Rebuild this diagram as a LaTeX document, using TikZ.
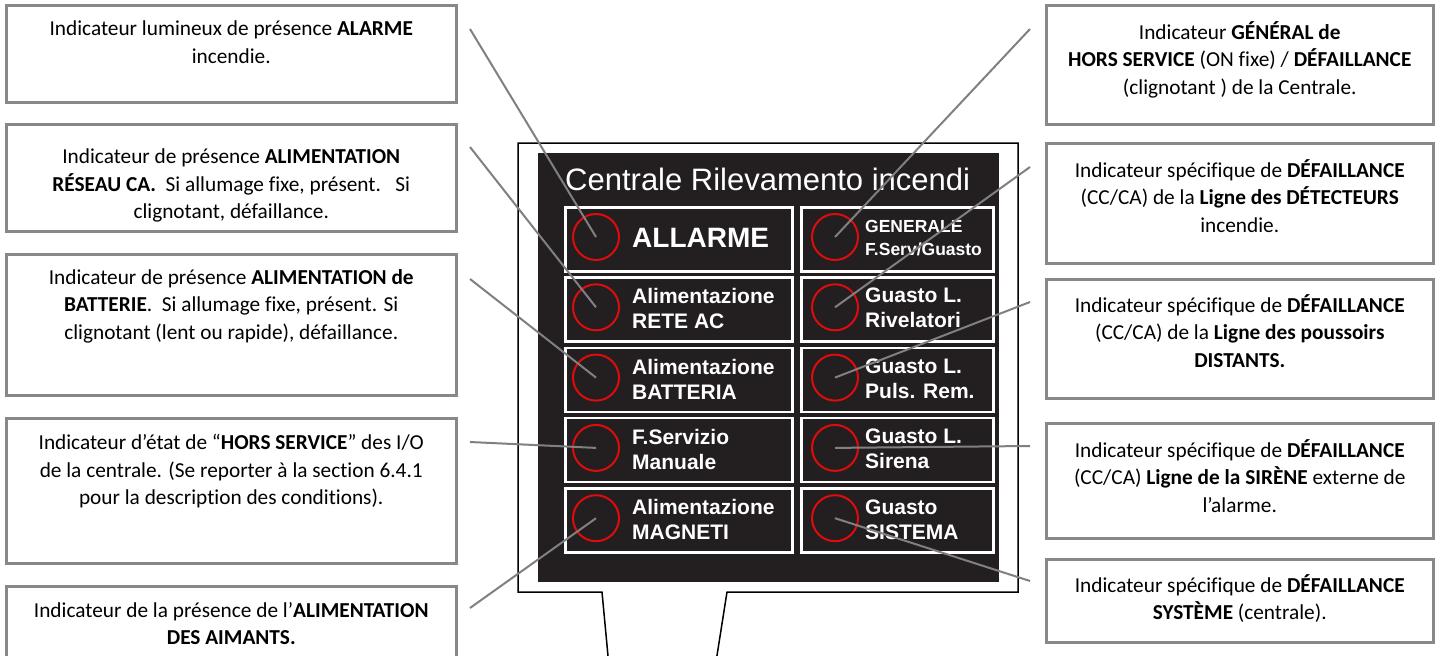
\documentclass[tikz,border=0pt]{standalone}
\usepackage{fontspec}
\setmainfont{Carlito}[Ligatures=NoCommon]
\newfontfamily\panelfont{Liberation Sans}
\usepackage{tikz}
\usetikzlibrary{positioning}
\definecolor{boxgray}{RGB}{136, 136, 136}
\definecolor{leadgray}{RGB}{128, 128, 128}
\definecolor{panelblack}{RGB}{35, 31, 32}
\definecolor{ledred}{RGB}{222, 12, 12}

\tikzset{
  descbox/.style={draw=boxgray, line width=2.5pt, anchor=north west, inner sep=0pt},
  desctext/.style={align=center, inner sep=0pt, font=\fontsize{21.3}{27.5}\selectfont},
  cellbox/.style={draw=white, line width=2.5pt, minimum height=64pt, anchor=north west, inner sep=0pt},
  led/.style={circle, draw=ledred, line width=2pt, minimum size=46pt, inner sep=0pt},
  celltxt/.style={text=white, align=left, inner sep=0pt, anchor=west, font=\panelfont\bfseries\fontsize{21}{25}\selectfont},
  lead/.style={draw=leadgray, line width=2pt}
}

\begin{document}
\begin{tikzpicture}[x=1pt, y=-1pt]
  \useasboundingbox (0,0) rectangle (1438,656);

  % left descriptions
  \node[descbox, minimum width=450pt, minimum height=97pt]  (alarmbox)   at (5,4)   {};
  \node[descbox, minimum width=450pt, minimum height=107pt] (mainsbox)   at (5,123) {};
  \node[descbox, minimum width=450pt, minimum height=141pt] (batterybox) at (5,253) {};
  \node[descbox, minimum width=450pt, minimum height=145pt] (servicebox) at (5,417) {};
  \node[descbox, minimum width=450pt, minimum height=100pt] (magnetbox)  at (5,585) {};
  \node[desctext, below=17pt of alarmbox.north] (alarmtxt)
       {Indicateur lumineux de présence \textbf{ALARME}\\ incendie.};
  \node[desctext, below=26pt of mainsbox.north] (mainstxt)
       {Indicateur de présence \textbf{ALIMENTATION}\\ \textbf{RÉSEAU CA.}\ \ Si allumage fixe, présent.\ \ \ Si\\ clignotant, défaillance.};
  \node[desctext, below=16pt of batterybox.north] (batterytxt)
       {Indicateur de présence \textbf{ALIMENTATION de}\\ \textbf{BATTERIE}.\ \ Si allumage fixe, présent. Si\\ clignotant (lent ou rapide), défaillance.};
  \node[desctext, below=17pt of servicebox.north] (servicetxt)
       {Indicateur d’état de “\textbf{HORS SERVICE}” des I/O\\ de la centrale. (Se reporter à la section 6.4.1\\ pour la description des conditions).};
  \node[desctext, below=17pt of magnetbox.north] (magnettxt)
       {Indicateur de la présence de l’\textbf{ALIMENTATION}\\ \textbf{DES AIMANTS.}};

  % right descriptions
  \node[descbox, minimum width=387pt, minimum height=119pt] (generalbox)  at (1045,4)   {};
  \node[descbox, minimum width=387pt, minimum height=120pt] (detectorbox) at (1045,142) {};
  \node[descbox, minimum width=387pt, minimum height=119pt] (pushbox)     at (1045,278) {};
  \node[descbox, minimum width=387pt, minimum height=115pt] (sirenbox)    at (1045,422) {};
  \node[descbox, minimum width=387pt, minimum height=83pt]  (systembox)   at (1045,558) {};
  \node[desctext, below=17pt of generalbox.north] (generaltxt)
       {Indicateur \textbf{GÉNÉRAL de}\\ \textbf{HORS SERVICE} (ON fixe) / \textbf{DÉFAILLANCE}\\ (clignotant ) de la Centrale.};
  \node[desctext, below=17pt of detectorbox.north] (detectortxt)
       {Indicateur spécifique de \textbf{DÉFAILLANCE}\\ (CC/CA) de la \textbf{Ligne des DÉTECTEURS}\\ incendie.};
  \node[desctext, below=16pt of pushbox.north] (pushtxt)
       {Indicateur spécifique de \textbf{DÉFAILLANCE}\\ (CC/CA) de la \textbf{Ligne des poussoirs}\\ \textbf{DISTANTS.}};
  \node[desctext, below=17pt of sirenbox.north] (sirentxt)
       {Indicateur spécifique de \textbf{DÉFAILLANCE}\\ (CC/CA) \textbf{Ligne de la SIRÈNE} externe de\\ l’alarme.};
  \node[desctext, below=16pt of systembox.north] (systemtxt)
       {Indicateur spécifique de \textbf{DÉFAILLANCE}\\ \textbf{SYSTÈME} (centrale).};

  % front panel
  \filldraw[draw=black, fill=white, line width=1.5pt]
       (608.2,658) -- (602,592) -- (518,592) -- (518,143) -- (1018,143) -- (1018,592) -- (727,592) -- (716.6,658);
  \fill[panelblack] (538,153) rectangle (999,582);
  \node[text=white, inner sep=0pt, anchor=base west, font=\panelfont\fontsize{31}{31}\selectfont] (title)
       at (565,190) {Centrale Rilevamento incendi};
  \foreach \r/\y in {1/206, 2/276.3, 3/346.6, 4/416.9, 5/487.2} {
    \node[cellbox, minimum width=227pt] (celll\r) at (564,\y) {};
    \node[cellbox, minimum width=192pt] (cellr\r) at (800,\y) {};
    \node[led] (ledl\r) at (596,\y+31) {};
    \node[led] (ledr\r) at (835,\y+31) {};
  }
  \node[celltxt, font=\panelfont\bfseries\fontsize{28}{28}\selectfont] (alarmlbl) at (632,238) {ALLARME};
  \node[celltxt] (mainslbl)   at (632,308)   {Alimentazione\\RETE AC};
  \node[celltxt] (batterylbl) at (632,379)   {Alimentazione\\BATTERIA};
  \node[celltxt] (servicelbl) at (632,449)   {F.Servizio\\Manuale};
  \node[celltxt] (magnetlbl)  at (632,519.5) {Alimentazione\\MAGNETI};
  \node[celltxt, font=\panelfont\bfseries\fontsize{17.5}{23}\selectfont] (generallbl) at (865,238) {GENERALE\\F.Serv/Guasto};
  \node[celltxt] (detectorlbl) at (865,308)   {Guasto L.\\Rivelatori};
  \node[celltxt] (pushlbl)     at (865,379)   {Guasto L.\\Puls. Rem.};
  \node[celltxt] (sirenlbl)    at (865,449)   {Guasto L.\\Sirena};
  \node[celltxt] (systemlbl)   at (865,519.5) {Guasto\\SISTEMA};

  % leader lines
  \coordinate (alarmend)    at (470,29);
  \coordinate (mainsend)    at (470,147);
  \coordinate (batteryend)  at (470,279);
  \coordinate (serviceend)  at (470,442);
  \coordinate (magnetend)   at (470,608);
  \coordinate (generalend)  at (1030,29);
  \coordinate (detectorend) at (1030,167);
  \coordinate (pushend)     at (1030,302);
  \coordinate (sirenend)    at (1030,446);
  \coordinate (systemend)   at (1030,581);
  \draw[lead] (alarmend)    -- (ledl1.center);
  \draw[lead] (mainsend)    -- (ledl2.center);
  \draw[lead] (batteryend)  -- (ledl3.center);
  \draw[lead] (serviceend)  -- (ledl4.center);
  \draw[lead] (magnetend)   -- (ledl5.center);
  \draw[lead] (generalend)  -- (ledr1.center);
  \draw[lead] (detectorend) -- (ledr2.center);
  \draw[lead] (pushend)     -- (ledr3.center);
  \draw[lead] (sirenend)    -- (ledr4.center);
  \draw[lead] (systemend)   -- (ledr5.center);
\end{tikzpicture}
\end{document}
